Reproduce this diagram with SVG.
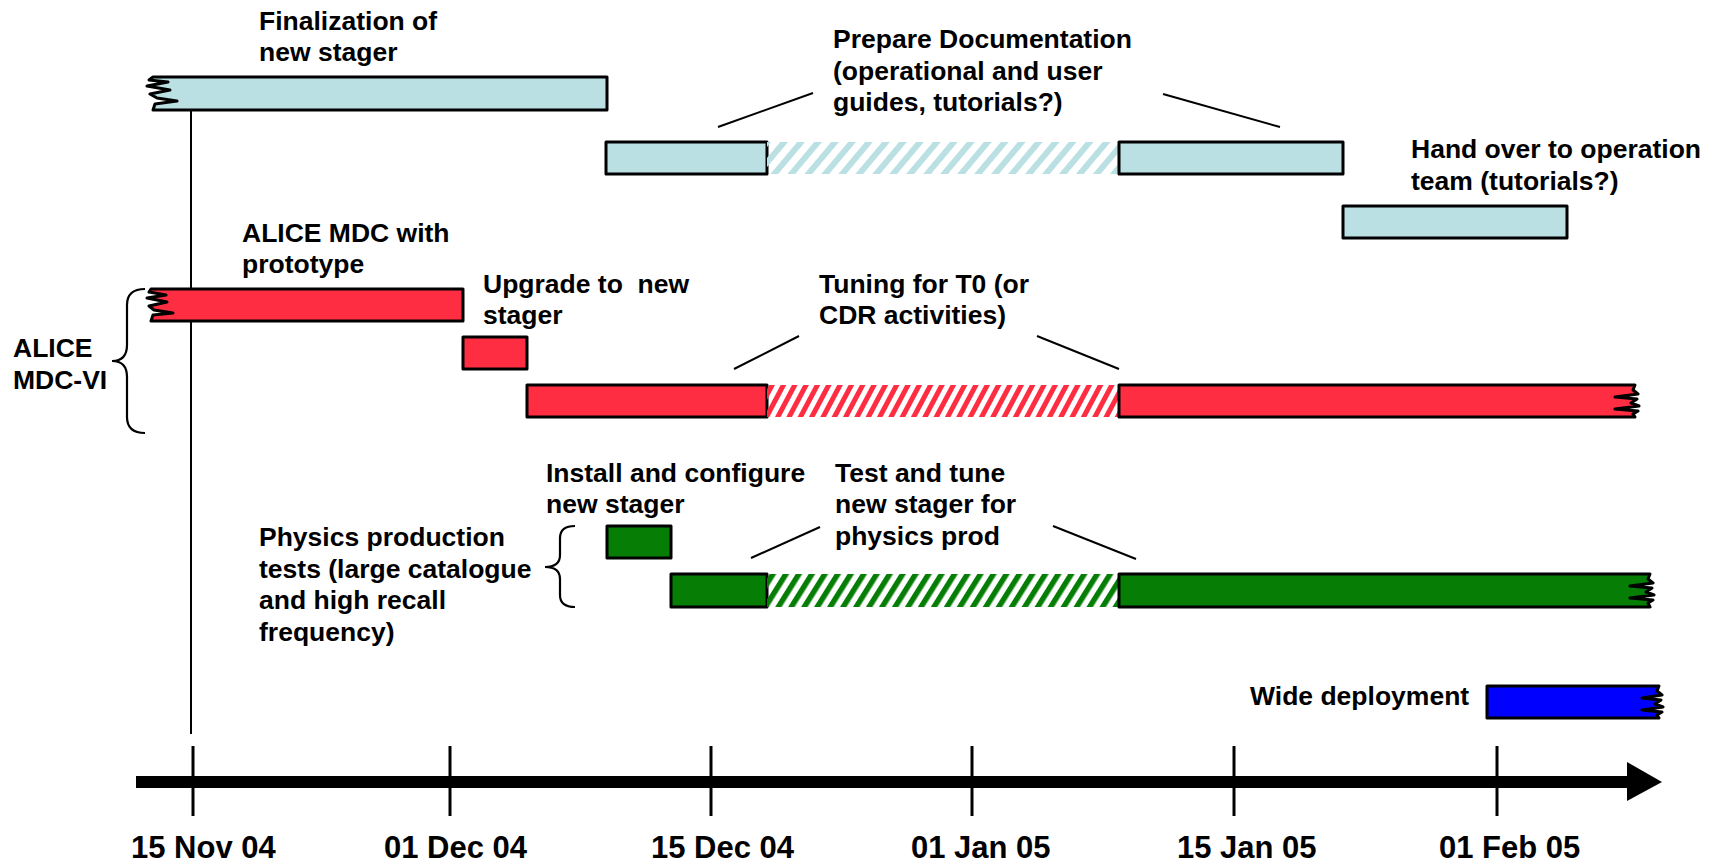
<svg xmlns="http://www.w3.org/2000/svg" width="1712" height="866" viewBox="0 0 1712 866">
<defs>
<style>
text{font-family:"Liberation Sans",Arial,sans-serif;font-weight:bold;font-size:26.5px;fill:#000}
.ax{font-size:31px}
.bar{stroke:#000;stroke-width:3;stroke-linejoin:round}
.lb{fill:#BBE0E3}.rd{fill:#FF2D41}.gr{fill:#067E06}.bl{fill:#0000FF}
.ln{stroke:#000;stroke-width:2;fill:none}
.br{stroke:#000;stroke-width:2.2;fill:none}
.tick{stroke:#000;stroke-width:3}
</style>
<pattern id="hb" width="13" height="13" patternUnits="userSpaceOnUse" patternTransform="rotate(40)"><rect width="6" height="13" fill="#BBE0E3"/></pattern>
<pattern id="hr" width="10" height="10" patternUnits="userSpaceOnUse" patternTransform="rotate(28)"><rect width="5" height="10" fill="#FF2D41"/></pattern>
<pattern id="hg" width="11" height="11" patternUnits="userSpaceOnUse" patternTransform="rotate(32)"><rect width="5.5" height="11" fill="#067E06"/></pattern>
</defs>
<rect width="1712" height="866" fill="#fff"/>

<g id="connectors">
<line class="ln" x1="191" y1="110" x2="191" y2="734"/>
<line class="ln" x1="718" y1="127" x2="813" y2="93"/>
<line class="ln" x1="1163" y1="94" x2="1280" y2="127"/>
<line class="ln" x1="734" y1="369" x2="799" y2="336"/>
<line class="ln" x1="1037" y1="336" x2="1119" y2="369"/>
<line class="ln" x1="751" y1="558" x2="820" y2="527"/>
<line class="ln" x1="1053" y1="526" x2="1136" y2="559"/>
<path class="br" d="M145,289 Q127,289 127,305 V345 Q127,361 112,361 Q127,361 127,377 V417 Q127,433 145,433"/>
<path class="br" d="M575,526 Q560,526 560,538 V555 Q560,567 545,567 Q560,567 560,579 V595 Q560,607 575,607"/>
</g>

<g id="finalization">
<path class="bar lb" d="M153,77 H607 V110 H153 L155,104 L177,101 L157,98 L150,94 L170,90 L147,86 L168,82 L149,80 Z"/>
<text x="259" y="30">Finalization of</text>
<text x="259" y="61">new stager</text>
</g>

<g id="documentation">
<rect class="bar lb" x="606" y="142" width="161" height="32"/>
<rect x="767" y="142" width="352" height="32" fill="url(#hb)"/>
<rect class="bar lb" x="1119" y="142" width="224" height="32"/>
<text x="833" y="48">Prepare Documentation</text>
<text x="833" y="80">(operational and user</text>
<text x="833" y="111">guides, tutorials?)</text>
</g>

<g id="handover">
<rect class="bar lb" x="1343" y="206" width="224" height="32"/>
<text x="1411" y="158">Hand over to operation</text>
<text x="1411" y="190">team (tutorials?)</text>
</g>

<g id="alice-prototype">
<path class="bar rd" d="M151,289 H463 V321 H151 L153,315 L173,313 L154,310 L149,306 L167,302 L147,298 L166,295 L149,292 Z"/>
<text x="242" y="242">ALICE MDC with</text>
<text x="242" y="273">prototype</text>
</g>

<g id="upgrade">
<rect class="bar rd" x="463" y="337" width="64" height="32"/>
<text x="483" y="293" style="white-space:pre">Upgrade to  new</text>
<text x="483" y="324">stager</text>
</g>

<g id="tuning">
<rect class="bar rd" x="527" y="385" width="240" height="32"/>
<rect x="767" y="385" width="352" height="32" fill="url(#hr)"/>
<path class="bar rd" d="M1119,385 H1635 L1633,390 L1638,394 L1615,397 L1637,399 L1631,403 L1639,406 L1615,409 L1638,411 L1633,414 L1635,417 H1119 Z"/>
<text x="819" y="293">Tuning for T0 (or</text>
<text x="819" y="324">CDR activities)</text>
</g>

<g id="alice-mdc-vi">
<text x="13" y="357">ALICE</text>
<text x="13" y="389">MDC-VI</text>
</g>

<g id="install">
<rect class="bar gr" x="607" y="526" width="64" height="32"/>
<text x="546" y="482">Install and configure</text>
<text x="546" y="513">new stager</text>
</g>

<g id="test-tune">
<rect class="bar gr" x="671" y="574" width="96" height="33"/>
<rect x="767" y="574" width="352" height="33" fill="url(#hg)"/>
<path class="bar gr" d="M1119,574 H1650 L1648,579 L1653,583 L1630,586 L1652,588 L1646,592 L1654,595 L1630,598 L1653,600 L1648,603 L1650,607 H1119 Z"/>
<text x="835" y="482">Test and tune</text>
<text x="835" y="513">new stager for</text>
<text x="835" y="545">physics prod</text>
</g>

<g id="physics">
<text x="259" y="546">Physics production</text>
<text x="259" y="578">tests (large catalogue</text>
<text x="259" y="609">and high recall</text>
<text x="259" y="641">frequency)</text>
</g>

<g id="wide">
<path class="bar bl" d="M1487,686 H1659 L1657,691 L1662,695 L1642,698 L1661,700 L1655,704 L1663,707 L1642,710 L1662,712 L1657,715 L1659,718 H1487 Z"/>
<text x="1250" y="705">Wide deployment</text>
</g>

<g id="axis">
<rect x="136" y="776" width="1492" height="12" fill="#000"/>
<polygon points="1627,762 1662,782 1627,801" fill="#000"/>
<line class="tick" x1="193" y1="746" x2="193" y2="816"/>
<line class="tick" x1="450" y1="746" x2="450" y2="816"/>
<line class="tick" x1="711" y1="746" x2="711" y2="816"/>
<line class="tick" x1="972" y1="746" x2="972" y2="816"/>
<line class="tick" x1="1234" y1="746" x2="1234" y2="816"/>
<line class="tick" x1="1497" y1="746" x2="1497" y2="816"/>
<text class="ax" x="131" y="858">15 Nov 04</text>
<text class="ax" x="384" y="858">01 Dec 04</text>
<text class="ax" x="651" y="858">15 Dec 04</text>
<text class="ax" x="911" y="858">01 Jan 05</text>
<text class="ax" x="1177" y="858">15 Jan 05</text>
<text class="ax" x="1439" y="858">01 Feb 05</text>
</g>
</svg>
